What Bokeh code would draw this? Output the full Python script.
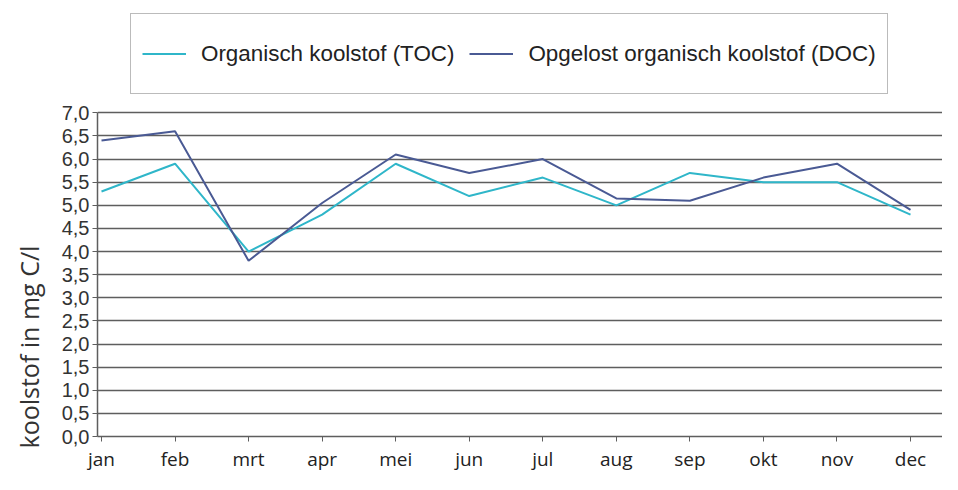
from bokeh.plotting import figure
from bokeh.models import (Range1d, FixedTicker, CustomJSTickFormatter, Legend,
                          LegendItem, Title, ColumnDataSource)
from bokeh.embed import file_html
from bokeh.resources import INLINE

# ---- data ----
months = ["jan", "feb", "mrt", "apr", "mei", "jun", "jul", "aug", "sep", "okt", "nov", "dec"]
toc = [5.3, 5.9, 4.0, 4.8, 5.9, 5.2, 5.6, 5.0, 5.7, 5.5, 5.5, 4.8]
doc = [6.4, 6.6, 3.8, 5.05, 6.1, 5.7, 6.0, 5.15, 5.1, 5.6, 5.9, 4.9]
y_ticks = [0.0, 0.5, 1.0, 1.5, 2.0, 2.5, 3.0, 3.5, 4.0, 4.5, 5.0, 5.5, 6.0, 6.5, 7.0]
series_names = ["Organisch koolstof (TOC)", "Opgelost organisch koolstof (DOC)"]
y_title = "koolstof in mg C/l"

idx = list(range(len(months)))
src = ColumnDataSource(data=dict(x=idx, toc=toc, doc=doc))

# frame spans the full height above the x axis; the legend sits in its upper part
p = figure(width=942, height=474, output_backend="svg", toolbar_location=None,
           x_range=Range1d(-0.0544, 11.435), y_range=Range1d(0, 9.43),
           min_border_left=97, min_border_right=0, min_border_top=0,
           min_border_bottom=37)
p.outline_line_color = None
p.background_fill_color = "white"
p.border_fill_color = "white"

r1 = p.line("x", "toc", source=src, line_color="#2fb6c9", line_width=2)
r2 = p.line("x", "doc", source=src, line_color="#4a5a94", line_width=2)

# x axis
p.xaxis.ticker = FixedTicker(ticks=idx)
p.xaxis.major_label_overrides = {i: m for i, m in zip(idx, months)}
p.xaxis.major_label_text_font = "Open Sans"
p.xaxis.major_label_text_font_size = "19px"
p.xaxis.major_label_text_color = "#222222"
p.xaxis.major_tick_in = 0
p.xaxis.major_tick_out = 5
p.xaxis.minor_tick_line_color = None
p.xaxis.major_label_standoff = 4
p.xaxis.axis_line_color = "#5e5e5e"
p.xaxis.axis_line_width = 1.5
p.xaxis.major_tick_line_color = "#5e5e5e"

# y axis
p.yaxis.ticker = FixedTicker(ticks=y_ticks)
p.yaxis.bounds = (y_ticks[0], y_ticks[-1])
p.yaxis.formatter = CustomJSTickFormatter(code="return tick.toFixed(1).replace('.', ',');")
p.yaxis.major_label_text_font = "Liberation Sans"
p.yaxis.major_label_text_font_size = "20px"
p.yaxis.major_label_text_color = "#333333"
p.yaxis.major_tick_in = 0
p.yaxis.major_tick_out = 5
p.yaxis.minor_tick_line_color = None
p.yaxis.major_label_standoff = 3
p.yaxis.axis_line_color = "#5e5e5e"
p.yaxis.axis_line_width = 1.5
p.yaxis.major_tick_line_color = "#5e5e5e"

p.xgrid.visible = False
p.ygrid.ticker = FixedTicker(ticks=y_ticks)
p.ygrid.grid_line_color = "#5e5e5e"
p.ygrid.grid_line_width = 1.5

# y title, starting near the bottom like the reference
p.add_layout(Title(text=y_title, align="left", vertical_align="top", offset=-12,
                   standoff=22, text_font="Open Sans", text_font_size="25px",
                   text_font_style="normal", text_color="#333333"), "left")

legend = Legend(items=[LegendItem(label=series_names[0], renderers=[r1]),
                       LegendItem(label=series_names[1], renderers=[r2])],
                orientation="horizontal", location=(33, 342),
                glyph_width=44, glyph_height=57, label_height=57,
                label_standoff=15, spacing=15, padding=11, margin=0,
                border_line_color="#777777", border_line_width=1.5,
                background_fill_color="white", background_fill_alpha=1.0,
                label_text_font="Liberation Sans", label_text_font_size="22.4px",
                label_text_color="#222222")
p.add_layout(legend)

open("out.html", "w").write(file_html(p, INLINE))
